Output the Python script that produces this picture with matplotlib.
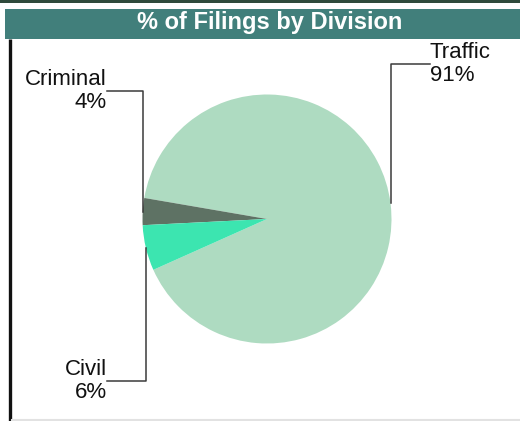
import numpy as np
import matplotlib
matplotlib.use("Agg")
import matplotlib.pyplot as plt
from matplotlib.patches import Rectangle

plt.rcParams['font.family'] = ['Liberation Sans', 'DejaVu Sans']

# data
divisions = ["Traffic", "Criminal", "Civil"]
shares = [90.6, 3.5, 5.9]
pct_text = ["91%", "4%", "6%"]
colors = ["#aedbc1", "#5e7264", "#3ce5b0"]

W, H = 520, 421
fig = plt.figure(figsize=(W / 100, H / 100), dpi=100)
ax = fig.add_axes([0, 0, 1, 1])

# frame pieces: dark strip on top, title bar, left rule, bottom rule
ax.add_patch(Rectangle((0, H - 2.5), W, 2.5, color="#2f4a3c", lw=0))
ax.add_patch(Rectangle((5, H - 39), W - 5, 30, color="#417f7b", lw=0))
ax.plot([10, 10], [0, H - 39], color="#111111", lw=2.4, solid_capstyle="butt")
ax.plot([12, W], [1, 1], color="#e2e2e2", lw=1.5)
ax.text(270, H - 23, "% of Filings by Division", color="white", fontsize=17,
        fontweight="bold", ha="center", va="center")

# pie
cx, cy, r = 267, H - 219, 124.5
wedges, _ = ax.pie(shares, colors=colors, startangle=204.1, center=(cx, cy),
                   radius=r, wedgeprops=dict(linewidth=0), frame=True)
ax.set_xlim(0, W)
ax.set_ylim(0, H)
ax.axis("off")

# label positions (pixel y from top) and where the text sits
label_y = [64, 91, 381]
label_x = [430, 107, 107]
for w, name, pct, ly, lx in zip(wedges, divisions, pct_text, label_y, label_x):
    mid = np.deg2rad((w.theta1 + w.theta2) / 2)
    ex, ey = cx + r * np.cos(mid), cy + r * np.sin(mid)
    ty = H - ly
    ax.plot([ex, ex, lx], [ey, ty, ty], color="#3a3a3a", lw=1.1)
    if lx > cx:
        ax.text(lx, ty, name + "\n" + pct, fontsize=16, ha="left", va="center",
                multialignment="left", linespacing=1.15, color="#111111")
    else:
        ax.text(lx, ty, name + "\n" + pct, fontsize=16, ha="right", va="center",
                multialignment="right", linespacing=1.15, color="#111111")

fig.savefig("out.png", dpi=100)
